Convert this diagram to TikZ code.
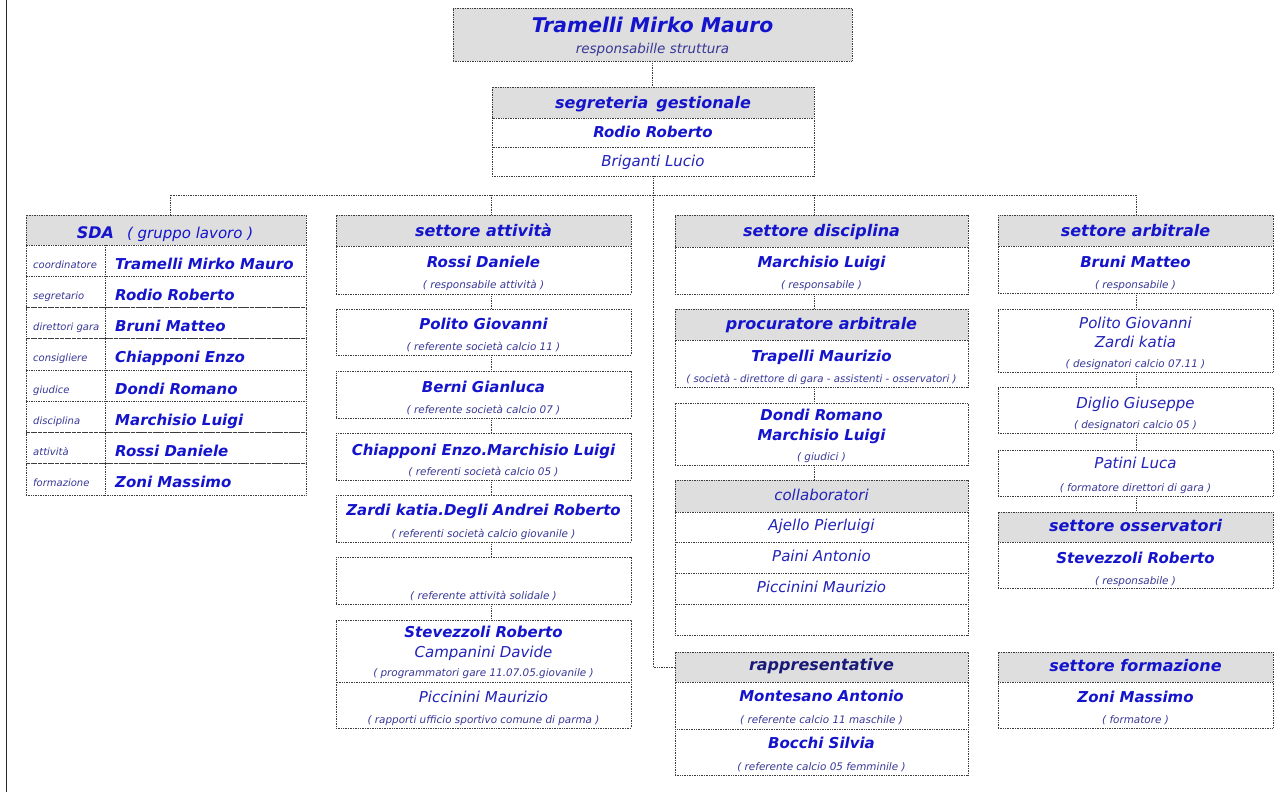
\documentclass[tikz,border=0pt]{standalone}
\usepackage{fontspec}
\setmainfont{DejaVu Sans}
\usetikzlibrary{fit}
\definecolor{nameblue}{RGB}{20,20,205}
\definecolor{subblue}{RGB}{55,55,150}
\definecolor{plainblue}{RGB}{35,35,185}
\definecolor{navyblue}{RGB}{25,25,120}
\definecolor{hdrgray}{RGB}{222,222,222}
\definecolor{lineclr}{RGB}{60,60,60}
\tikzset{
 cellbox/.style={draw=lineclr, line width=0.9pt, dash pattern=on 0.9pt off 0.8pt, fill=white, inner sep=0pt},
 hdrbox/.style={cellbox, fill=hdrgray},
 conn/.style={draw=lineclr, line width=0.9pt, dash pattern=on 0.9pt off 0.8pt},
 nm/.style={text=nameblue, font=\fontsize{15}{18}\selectfont\bfseries\itshape, anchor=base, inner sep=0pt},
 hd/.style={nm, font=\fontsize{16}{19}\selectfont\bfseries\itshape},
 pl/.style={nm, text=plainblue, font=\fontsize{15}{18}\selectfont\itshape},
 sb/.style={nm, text=subblue, font=\fontsize{10.4}{12}\selectfont\itshape},
 lb/.style={sb, font=\fontsize{10}{12}\selectfont\itshape, anchor=base west},
 nmw/.style={nm, anchor=base west},
}
\newcommand\bx[6]{\node[#6, fit={(#2,#3) (#4,#5)}] (#1) {};}
\begin{document}
\begin{tikzpicture}[x=1pt,y=-1pt]
\useasboundingbox (0,0) rectangle (1282,792);
\draw[line width=1.5pt, black!85] (6.6,0) -- (6.6,792);

% ---------- top ----------
\bx{top}{453}{8}{852}{61}{hdrbox}
\node[nm, text=nameblue, font=\fontsize{20.3}{24}\selectfont\bfseries\itshape] (topname) at (652.5,33) {Tramelli Mirko Mauro};
\node[sb, font=\fontsize{13.5}{16}\selectfont\itshape] (topsub) at (652.5,53) {responsabille struttura};

% ---------- segreteria ----------
\bx{segh}{492}{87}{814}{118}{hdrbox}
\bx{segr}{492}{118}{814}{147}{cellbox}
\bx{segb}{492}{147}{814}{176}{cellbox}
\node[hd] (segt) at (653,108) {segreteria\hspace{8pt}gestionale};
\node[nm] (segn) at (653,137) {Rodio Roberto};
\node[pl] (segp) at (653,166) {Briganti Lucio};

% ---------- SDA ----------
\bx{sdah}{26}{215}{306}{245}{hdrbox}
\node[hd] (sdat) at (165,238) {SDA\hspace{13pt}{\mdseries\fontsize{15}{18}\selectfont ( gruppo lavoro )}};
\foreach \i/\lab/\who [count=\k from 0] in {
  1/coordinatore/Tramelli Mirko Mauro,
  2/segretario/Rodio Roberto,
  3/direttori gara/Bruni Matteo,
  4/consigliere/Chiapponi Enzo,
  5/giudice/Dondi Romano,
  6/disciplina/Marchisio Luigi,
  7/attività/Rossi Daniele,
  8/formazione/Zoni Massimo}{
  \pgfmathsetmacro\tp{245+31.25*\k}
  \pgfmathsetmacro\bt{\tp+31.25}
  \bx{sdal\i}{26}{\tp}{105}{\bt}{cellbox}
  \bx{sdan\i}{105}{\tp}{306}{\bt}{cellbox}
  \node[lb] (sdalt\i) at (33,\tp+23) {\lab};
  \node[nmw] (sdant\i) at (115,\tp+24) {\who};
}

% ---------- settore attivita ----------
\bx{a1h}{336}{215}{631}{246}{hdrbox}
\bx{a1b}{336}{246}{631}{294}{cellbox}
\bx{a2}{336}{309}{631}{355}{cellbox}
\bx{a3}{336}{371}{631}{418}{cellbox}
\bx{a4}{336}{433}{631}{480}{cellbox}
\bx{a5}{336}{495}{631}{542}{cellbox}
\bx{a6}{336}{557}{631}{604}{cellbox}
\bx{a7a}{336}{620}{631}{682}{cellbox}
\bx{a7b}{336}{682}{631}{728}{cellbox}
\node[hd] (a1t) at (483.5,236.7) {settore attività};
\node[nm] (a1n) at (483.5,267.7) {Rossi Daniele};
\node[sb] (a1s) at (483.5,288.3) {( responsabile attività )};
\node[nm] (a2n) at (483.5,329) {Polito Giovanni};
\node[sb] (a2s) at (483.5,350.7) {( referente società calcio 11 )};
\node[nm] (a3n) at (483.5,392.3) {Berni Gianluca};
\node[sb] (a3s) at (483.5,413.3) {( referente società calcio 07 )};
\node[nm] (a4n) at (483.5,455) {Chiapponi Enzo.Marchisio Luigi};
\node[sb] (a4s) at (483.5,475) {( referenti società calcio 05 )};
\node[nm] (a5n) at (483.5,515.7) {Zardi katia.Degli Andrei Roberto};
\node[sb] (a5s) at (483.5,537.3) {( referenti società calcio giovanile )};
\node[sb] (a6s) at (483.5,599.3) {( referente attività solidale )};
\node[nm] (a7n) at (483.5,637.3) {Stevezzoli Roberto};
\node[pl] (a7p) at (483.5,657.3) {Campanini Davide};
\node[sb] (a7s) at (483.5,676.7) {( programmatori gare 11.07.05.giovanile )};
\node[pl] (a8p) at (483.5,702.3) {Piccinini Maurizio};
\node[sb] (a8s) at (483.5,723.3) {( rapporti ufficio sportivo comune di parma )};

% ---------- settore disciplina ----------
\bx{d1h}{675}{215}{968}{247}{hdrbox}
\bx{d1b}{675}{247}{968}{294}{cellbox}
\bx{d2h}{675}{309}{968}{340}{hdrbox}
\bx{d2b}{675}{340}{968}{387}{cellbox}
\bx{d3}{675}{403}{968}{465}{cellbox}
\bx{d4h}{675}{480}{968}{512}{hdrbox}
\bx{d4r1}{675}{512}{968}{542}{cellbox}
\bx{d4r2}{675}{542}{968}{573}{cellbox}
\bx{d4r3}{675}{573}{968}{604}{cellbox}
\bx{d4r4}{675}{604}{968}{635}{cellbox}
\bx{d5h}{675}{652}{968}{682}{hdrbox}
\bx{d5a}{675}{682}{968}{729}{cellbox}
\bx{d5b}{675}{729}{968}{775}{cellbox}
\node[hd] (d1t) at (821.5,236.7) {settore disciplina};
\node[nm] (d1n) at (821.5,267.7) {Marchisio Luigi};
\node[sb] (d1s) at (821.5,288.3) {( responsabile )};
\node[hd] (d2t) at (821.5,329.3) {procuratore arbitrale};
\node[nm] (d2n) at (821.5,361) {Trapelli Maurizio};
\node[sb, font=\fontsize{10.2}{12}\selectfont\itshape] (d2s) at (821.5,382.7) {( società - direttore di gara - assistenti - osservatori )};
\node[nm] (d3n) at (821.5,420.7) {Dondi Romano};
\node[nm] (d3m) at (821.5,440.7) {Marchisio Luigi};
\node[sb] (d3s) at (821.5,460) {( giudici )};
\node[pl] (d4t) at (821.5,500.7) {collaboratori};
\node[pl] (d4p1) at (821.5,530.7) {Ajello Pierluigi};
\node[pl] (d4p2) at (821.5,561.7) {Paini Antonio};
\node[pl] (d4p3) at (821.5,592.7) {Piccinini Maurizio};
\node[hd, text=navyblue] (d5t) at (821.5,670.7) {rappresentative};
\node[nm] (d5n) at (821.5,701.7) {Montesano Antonio};
\node[sb] (d5s) at (821.5,723.3) {( referente calcio 11 maschile )};
\node[nm] (d6n) at (821.5,748.3) {Bocchi Silvia};
\node[sb] (d6s) at (821.5,770) {( referente calcio 05 femminile )};

% ---------- settore arbitrale ----------
\bx{r1h}{998}{215}{1273}{246}{hdrbox}
\bx{r1b}{998}{246}{1273}{293}{cellbox}
\bx{r2}{998}{309}{1273}{372}{cellbox}
\bx{r3}{998}{387}{1273}{433}{cellbox}
\bx{r4}{998}{450}{1273}{496}{cellbox}
\bx{r5h}{998}{512}{1273}{542}{hdrbox}
\bx{r5b}{998}{542}{1273}{588}{cellbox}
\bx{r6h}{998}{652}{1273}{682}{hdrbox}
\bx{r6b}{998}{682}{1273}{728}{cellbox}
\node[hd] (r1t) at (1135.5,236.7) {settore arbitrale};
\node[nm] (r1n) at (1135.5,267.3) {Bruni Matteo};
\node[sb] (r1s) at (1135.5,288.3) {( responsabile )};
\node[pl] (r2p) at (1135.5,328) {Polito Giovanni};
\node[pl] (r2q) at (1135.5,347.7) {Zardi katia};
\node[sb] (r2s) at (1135.5,367.7) {( designatori calcio 07.11 )};
\node[pl] (r3p) at (1135.5,408) {Diglio Giuseppe};
\node[sb] (r3s) at (1135.5,428.5) {( designatori calcio 05 )};
\node[pl] (r4p) at (1135.5,468.3) {Patini Luca};
\node[sb] (r4s) at (1135.5,491) {( formatore direttori di gara )};
\node[hd] (r5t) at (1135.5,531.7) {settore osservatori};
\node[nm] (r5n) at (1135.5,563.3) {Stevezzoli Roberto};
\node[sb] (r5s) at (1135.5,584) {( responsabile )};
\node[hd] (r6t) at (1135.5,671.7) {settore formazione};
\node[nm] (r6n) at (1135.5,702.7) {Zoni Massimo};
\node[sb] (r6s) at (1135.5,723.3) {( formatore )};

% ---------- connectors ----------
\coordinate (busL) at (170,195);
\coordinate (busR) at (1136,195);
\draw[conn] (top.south) -- (top.south |- segh.north);
\draw[conn] (sdah.north -| busL) -- (busL) -- (busR) -- (r1h.north -| busR);
\draw[conn] (busL -| segb.west) -- (a1h.north -| segb.west);
\draw[conn] (busL -| segb.east) -- (d1h.north -| segb.east);
\draw[conn] (segb.south) |- (d5h.west);
\draw[conn] (a1b.south -| segb.west) -- (a2.north -| segb.west);
\draw[conn] (a2.south -| segb.west) -- (a3.north -| segb.west);
\draw[conn] (a3.south -| segb.west) -- (a4.north -| segb.west);
\draw[conn] (a4.south -| segb.west) -- (a5.north -| segb.west);
\draw[conn] (a5.south -| segb.west) -- (a6.north -| segb.west);
\draw[conn] (a6.south -| segb.west) -- (a7a.north -| segb.west);
\draw[conn] (d1b.south -| segb.east) -- (d2h.north -| segb.east);
\draw[conn] (d2b.south -| segb.east) -- (d3.north -| segb.east);
\draw[conn] (d3.south -| segb.east) -- (d4h.north -| segb.east);
\draw[conn] (r1b.south -| busR) -- (r2.north -| busR);
\draw[conn] (r2.south -| busR) -- (r3.north -| busR);
\draw[conn] (r3.south -| busR) -- (r4.north -| busR);
\draw[conn] (r4.south -| busR) -- (r5h.north -| busR);
\end{tikzpicture}
\end{document}
